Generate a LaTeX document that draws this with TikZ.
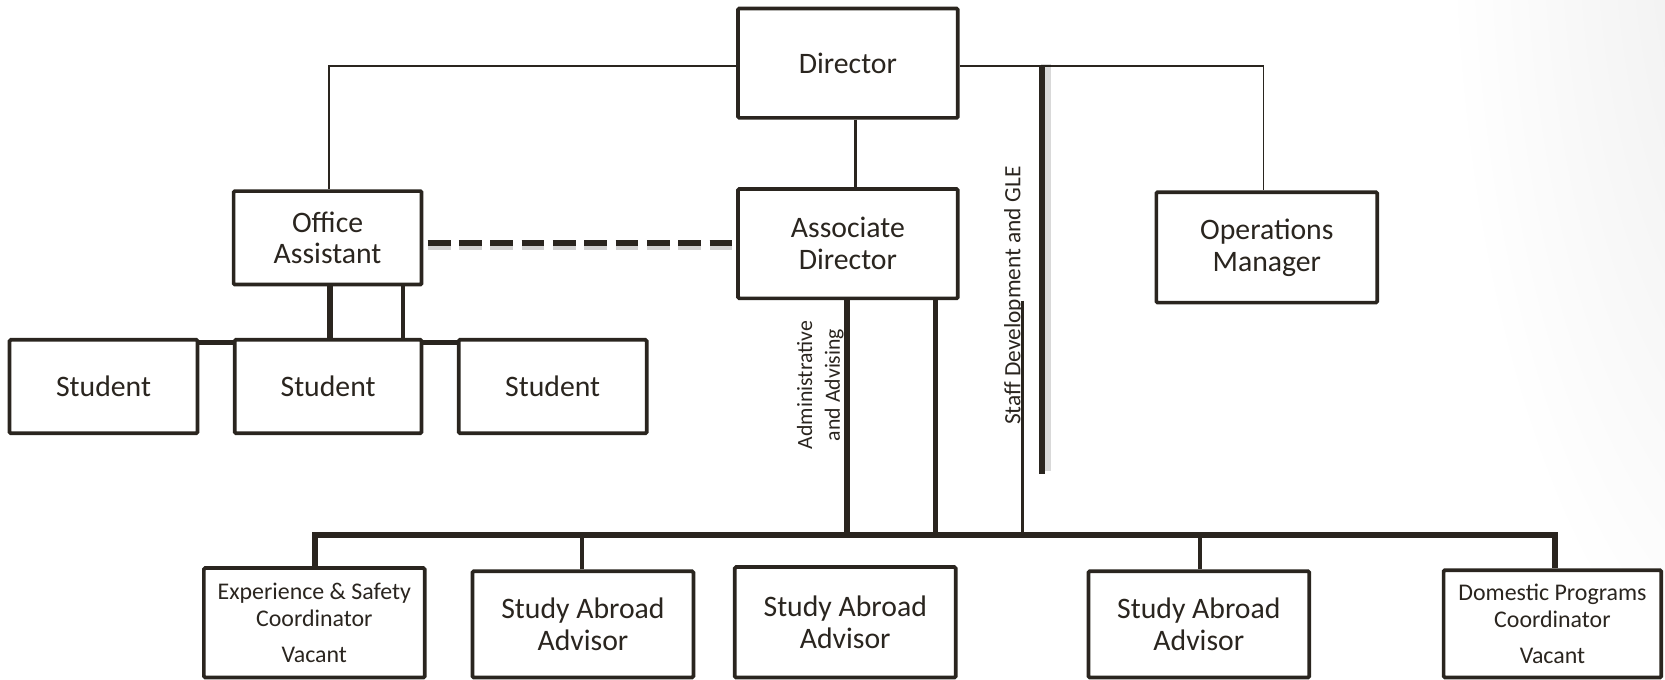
\documentclass[tikz,border=0pt]{standalone}
\usepackage{fontspec}
\setmainfont{Carlito}
\definecolor{ink}{RGB}{42,37,31}
\begin{document}
\begin{tikzpicture}[x=1pt,y=-1pt,
  box/.style={draw=ink, line width=3.5pt, rounded corners=1.2pt, fill=white,
    text=ink, align=center, inner sep=0pt, font=\fontsize{28}{30}\selectfont},
  smallbox/.style={box, font=\fontsize{22.5}{25}\selectfont},
  rotlabel/.style={rotate=90, text=ink, align=center, inner sep=0pt},
  wire/.style={draw=ink, line width=#1},
  wire/.default=4pt]
\useasboundingbox (0,0) rectangle (1568,640);
% soft grey tint in the upper right corner, built from stacked translucent ellipses
\begin{scope}
  \clip (0,0) rectangle (1568,640);
  \foreach \k in {1,...,20}
    \fill[black, opacity=0.005] (1700,-100) ellipse ({\k*16.5pt} and {\k*40pt});
\end{scope}

% boxes
\node[box, minimum width=207pt, minimum height=103pt] (dir) at (798.5,59.5) {Director};
\node[box, minimum width=207pt, minimum height=103pt] (ad) at (798.5,229.5) {Associate\\Director};
\node[box, minimum width=177pt, minimum height=88pt] (oa) at (308.5,224) {Office\\Assistant};
\node[box, minimum width=208pt, minimum height=104pt] (ops) at (1193,233) {Operations\\Manager};
\node[box, minimum width=177pt, minimum height=88pt] (st1) at (97.5,364) {Student};
\node[box, minimum width=176pt, minimum height=88pt] (st2) at (309,364) {Student};
\node[box, minimum width=177pt, minimum height=88pt] (st3) at (520.5,364) {Student};
\node[smallbox, minimum width=208pt, minimum height=103pt] (exp) at (296,586.5) {Experience \& Safety\\Coordinator\\[9pt]Vacant};
\node[box, minimum width=208pt, minimum height=100pt] (sa1) at (549,588) {Study Abroad\\Advisor};
\node[box, minimum width=208pt, minimum height=104pt] (sa2) at (796,586) {Study Abroad\\Advisor};
\node[box, minimum width=208pt, minimum height=100pt] (sa3) at (1129,588) {Study Abroad\\Advisor};
\node[smallbox, minimum width=205pt, minimum height=101pt] (dom) at (1462,587.5) {Domestic Programs\\Coordinator\\[9pt]Vacant};

% rotated line labels
\node[rotlabel, font=\fontsize{20.5}{26}\selectfont] (admin) at (772.5,362.5) {Administrative\\and Advising};
\node[rotlabel, font=\fontsize{22}{26}\selectfont] (staff) at (955,278.5) {Staff Development and GLE};

% free ends
\coordinate (busy) at (0,504);
\coordinate (sdtop) at (963,283);
\coordinate (glet) at (981,62);
\coordinate (gleb) at (981,446);

% director level
\draw[wire=1.3pt] ([yshift=-2.5pt]dir.west) -| ([xshift=1.5pt]oa.north);
\draw[wire=1.3pt] ([yshift=-2.5pt]dir.east) -| ([xshift=-3pt]ops.north);
\draw[wire=3pt] ([xshift=7.5pt]dir.south) -- ([xshift=7.5pt]ad.north);

% dotted-line relation
\draw[black, opacity=.18, line width=9pt, dash pattern=on 21.5pt off 8pt]
  ([xshift=4pt,yshift=-6.5pt]oa.east) -- ([yshift=-6.5pt]oa.east -| ad.west);
\draw[ink, line width=6pt, dash pattern=on 21.5pt off 8pt]
  ([xshift=4pt,yshift=-5pt]oa.east) -- ([yshift=-5pt]oa.east -| ad.west);

% office assistant and students
\draw[wire=6pt] ([xshift=2pt]oa.south) -- ([xshift=2pt]oa.south |- st2.north);
\draw[wire=4pt] ([xshift=71pt]oa.south) -- ([xshift=71pt]oa.south |- st2.north);
\draw[wire=5pt] ([yshift=-4pt]st1.north east) -- ([yshift=-4pt]st2.north west);
\draw[wire=5pt] ([yshift=-4pt]st2.north east) -- ([yshift=-4pt]st3.north west);

% associate director down to the staff bus
\draw[wire=5.5pt] ([xshift=-0.5pt]ad.south) -- ([xshift=-0.5pt]ad.south |- busy);
\draw[wire=4pt] ([xshift=82.5pt]ad.south) -- ([xshift=82.5pt]ad.south |- busy);
\draw[wire=3pt] (sdtop) -- (sdtop |- busy);
\draw[wire=5.5pt, line join=miter]
  ([xshift=1pt]exp.north) -- ([xshift=1pt]exp.north |- busy)
  -- ([xshift=2.5pt]dom.north |- busy) -- ([xshift=2.5pt]dom.north);
\draw[wire=4pt] ([xshift=-1pt]sa1.north) -- ([xshift=-1pt]sa1.north |- busy);
\draw[wire=4pt] ([xshift=1pt]sa3.north) -- ([xshift=1pt]sa3.north |- busy);

% staff development bar
\draw[black, opacity=.15, line width=9pt] ([xshift=4pt,yshift=2pt]glet) -- ([xshift=4pt,yshift=2pt]gleb);
\draw[wire=6pt] (glet) -- (gleb);
\end{tikzpicture}
\end{document}
